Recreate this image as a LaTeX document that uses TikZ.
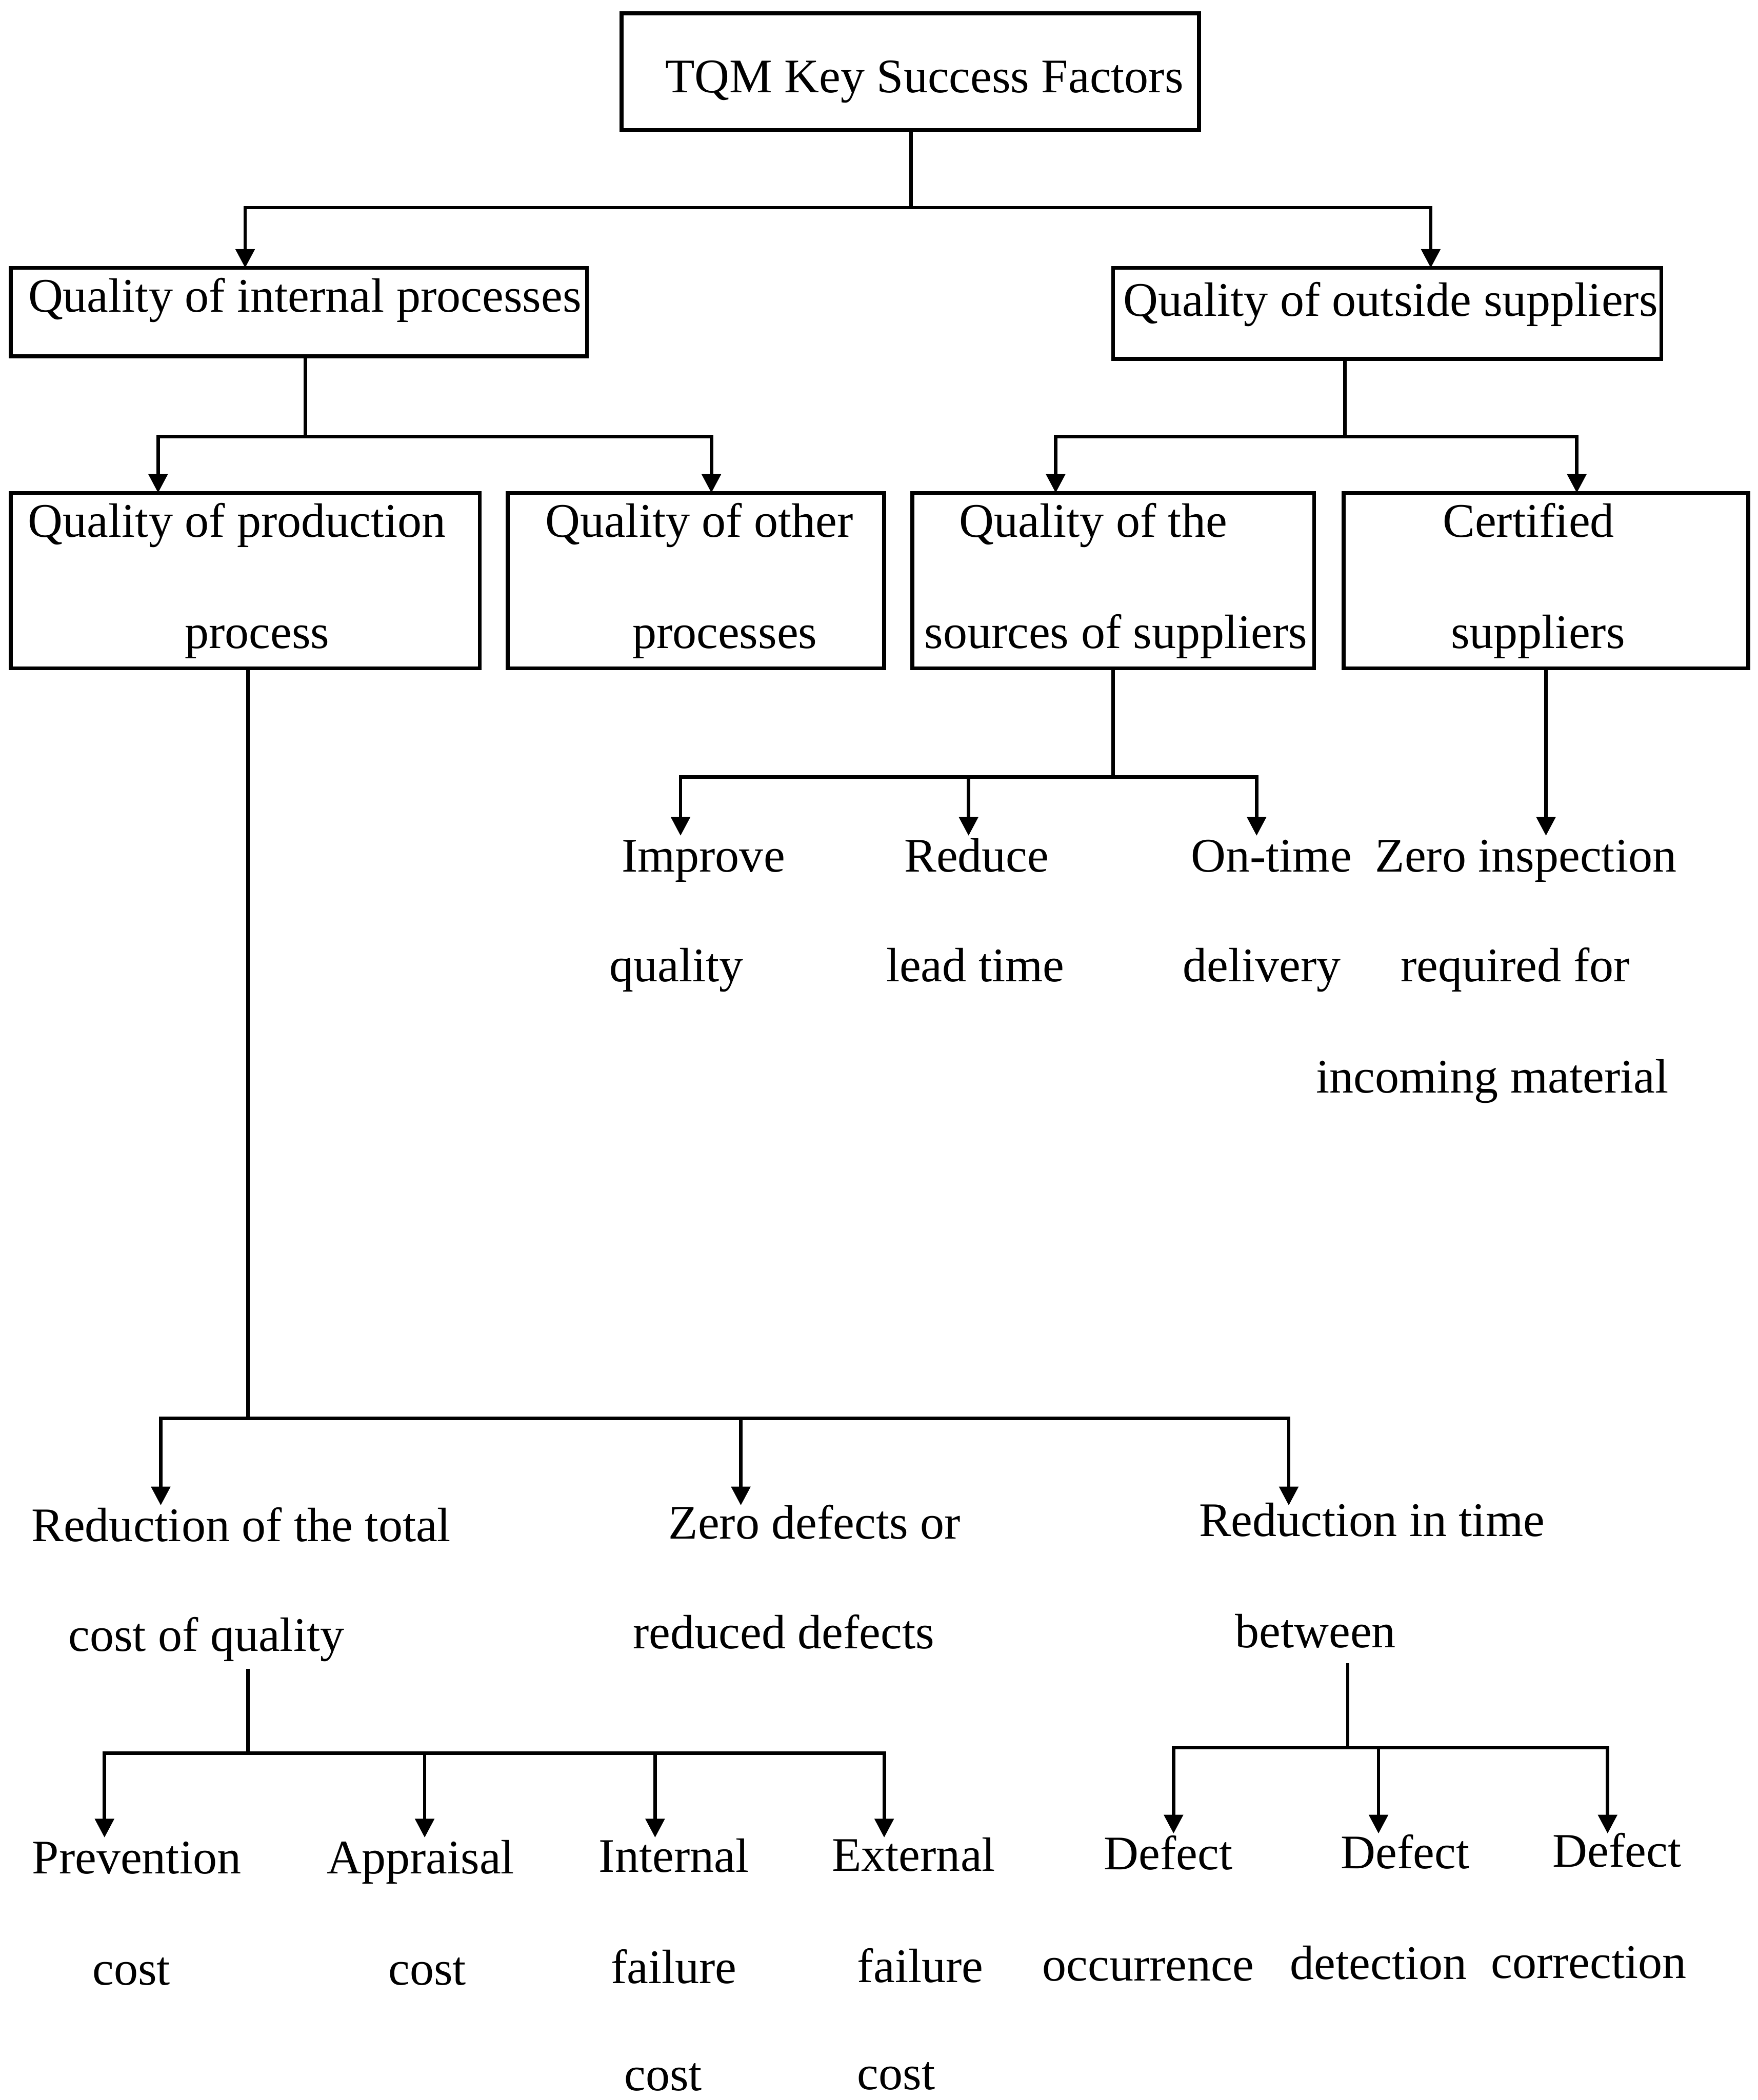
\documentclass[tikz,border=0pt]{standalone}
\usepackage{fontspec}
\setmainfont{Liberation Serif}
\usetikzlibrary{arrows.meta}
\begin{document}
\begin{tikzpicture}[x=1pt,y=-1pt,
  box/.style={draw, line width=2.8pt, inner sep=0pt, outer sep=0pt},
  txt/.style={anchor=base, inner sep=0pt, font=\fontsize{36}{43}\selectfont},
  ln/.style={line width=2.6pt},
  arr/.style={line width=2.6pt, -{Triangle[length=14pt,width=14pt]}}]
\useasboundingbox (0,0) rectangle (1312,1568);

% boxes
\node[box, minimum width=431pt, minimum height=87pt] (top) at (679.5,53.5) {};
\node[box, minimum width=430pt, minimum height=66pt] (intl) at (223,233) {};
\node[box, minimum width=409pt, minimum height=68pt] (outs) at (1035.5,234) {};
\node[box, minimum width=350pt, minimum height=131pt] (prod) at (183,433.5) {};
\node[box, minimum width=281pt, minimum height=131pt] (other) at (519.5,433.5) {};
\node[box, minimum width=300pt, minimum height=131pt] (src) at (831,433.5) {};
\node[box, minimum width=302pt, minimum height=131pt] (cert) at (1154,433.5) {};

% box texts
\node[txt] (topT) at (690,69) {TQM Key Success Factors};
\node[txt] (intlT) at (227.5,233) {Quality of internal processes};
\node[txt] (outsT) at (1038,236) {Quality of outside suppliers};
\node[txt] (prodA) at (177,401) {Quality of production};
\node[txt] (prodB) at (192,484) {process};
\node[txt] (otherA) at (522,401) {Quality of other};
\node[txt] (otherB) at (541,484) {processes};
\node[txt] (srcA) at (816,401) {Quality of the};
\node[txt] (srcB) at (833,484) {sources of suppliers};
\node[txt] (certA) at (1141,401) {Certified};
\node[txt] (certB) at (1148,484) {suppliers};

% supplier outcomes
\node[txt] (impA) at (525,651) {Improve};
\node[txt] (impB) at (505,733) {quality};
\node[txt] (redA) at (729,651) {Reduce};
\node[txt] (redB) at (728,733) {lead time};
\node[txt] (onA) at (949,651) {On-time};
\node[txt] (onB) at (942,733) {delivery};
\node[txt] (zeroA) at (1139,651) {Zero inspection};
\node[txt] (zeroB) at (1131,733) {required for};
\node[txt] (zeroC) at (1114,816) {incoming material};

% production outcomes
\node[txt] (coqA) at (180,1151) {Reduction of the total};
\node[txt] (coqB) at (154,1233) {cost of quality};
\node[txt] (zdA) at (608,1149) {Zero defects or};
\node[txt] (zdB) at (585,1231) {reduced defects};
\node[txt] (rtA) at (1024,1147) {Reduction in time};
\node[txt] (rtB) at (982,1230) {between};

% cost items
\node[txt] (prevA) at (102,1399) {Prevention};
\node[txt] (prevB) at (98,1482) {cost};
\node[txt] (appA) at (314,1399) {Appraisal};
\node[txt] (appB) at (319,1482) {cost};
\node[txt] (intA) at (503,1398) {Internal};
\node[txt] (intB) at (503,1481) {failure};
\node[txt] (intC) at (495,1561) {cost};
\node[txt] (extA) at (682,1397) {External};
\node[txt] (extB) at (687,1480) {failure};
\node[txt] (extC) at (669,1560) {cost};

% defect items
\node[txt] (occA) at (872,1396) {Defect};
\node[txt] (occB) at (857,1479) {occurrence};
\node[txt] (detA) at (1049,1395) {Defect};
\node[txt] (detB) at (1029,1478) {detection};
\node[txt] (corA) at (1207,1394) {Defect};
\node[txt] (corB) at (1186,1477) {correction};

% junctions and arrow targets
\coordinate (j0) at (680,155);
\coordinate (t-intl) at (183,200);
\coordinate (t-outs) at (1068,200);
\draw[ln] (top.south -| j0) -- (j0);
\draw[arr] (j0) -| (t-intl);
\draw[arr] (j0) -| (t-outs);

\coordinate (j1) at (228,326);
\coordinate (t-prod) at (118,368);
\coordinate (t-other) at (531,368);
\draw[ln] (intl.south -| j1) -- (j1);
\draw[arr] (j1) -| (t-prod);
\draw[arr] (j1) -| (t-other);

\coordinate (j2) at (1004,326);
\coordinate (t-src) at (788,368);
\coordinate (t-cert) at (1177,368);
\draw[ln] (outs.south -| j2) -- (j2);
\draw[arr] (j2) -| (t-src);
\draw[arr] (j2) -| (t-cert);

\coordinate (j3) at (831,580);
\coordinate (t-imp) at (508,624);
\coordinate (t-red) at (723,624);
\coordinate (t-on) at (938,624);
\draw[ln] (src.south) -- (j3);
\draw[arr] (j3) -| (t-imp);
\draw[arr] (j3) -| (t-red);
\draw[arr] (j3) -| (t-on);

\coordinate (t-zero) at (1154,624);
\draw[arr] (cert.south) -- (t-zero);

\coordinate (j4) at (185,1059);
\coordinate (t-coq) at (120,1124);
\coordinate (t-zd) at (553,1124);
\coordinate (t-rt) at (962,1124);
\draw[ln] (prod.south -| j4) -- (j4);
\draw[arr] (j4) -| (t-coq);
\draw[arr] (j4) -| (t-zd);
\draw[arr] (j4) -| (t-rt);

\coordinate (s5) at (185,1246);
\coordinate (j5) at (185,1309);
\coordinate (t-prev) at (78,1372);
\coordinate (t-app) at (317,1372);
\coordinate (t-int) at (489,1372);
\coordinate (t-ext) at (660,1372);
\draw[ln] (s5) -- (j5);
\draw[arr] (j5) -| (t-prev);
\draw[arr] (j5) -| (t-app);
\draw[arr] (j5) -| (t-int);
\draw[arr] (j5) -| (t-ext);

\coordinate (s6) at (1006,1242);
\coordinate (j6) at (1006,1305);
\coordinate (t-occ) at (876,1369);
\coordinate (t-det) at (1029,1369);
\coordinate (t-cor) at (1200,1369);
\draw[ln] (s6) -- (j6);
\draw[arr] (j6) -| (t-occ);
\draw[arr] (j6) -| (t-det);
\draw[arr] (j6) -| (t-cor);
\end{tikzpicture}
\end{document}
